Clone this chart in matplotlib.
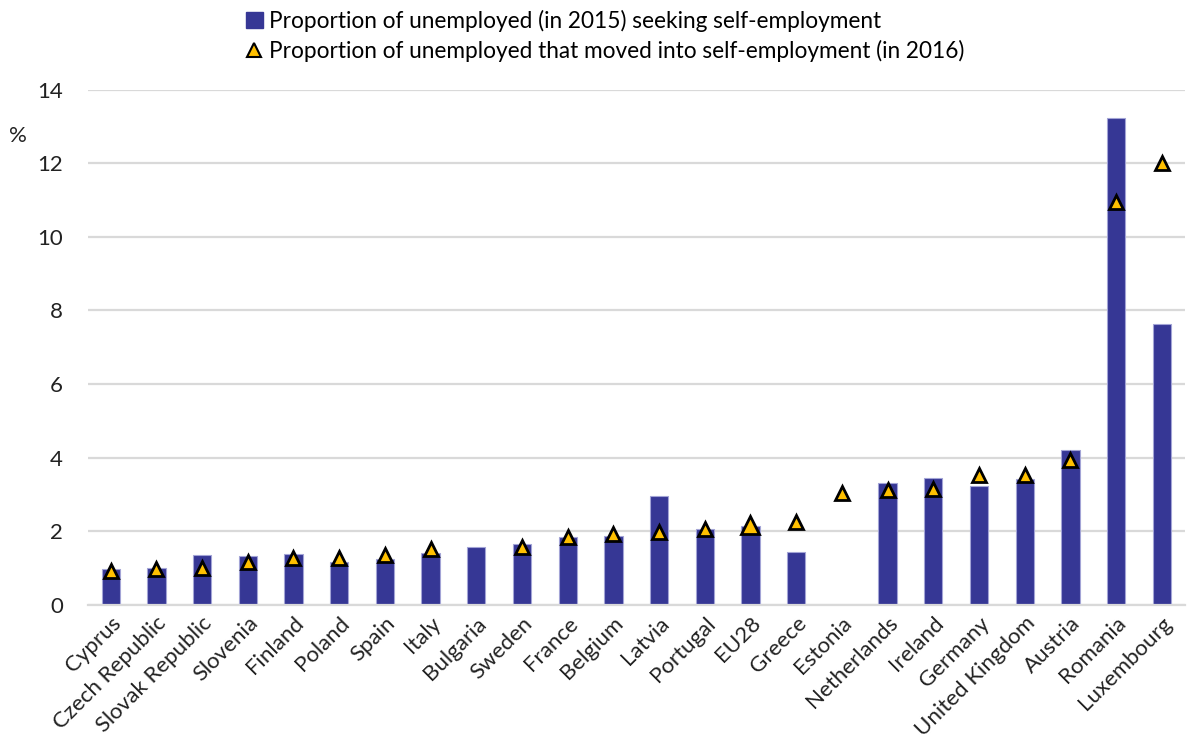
import numpy as np
import matplotlib.pyplot as plt
from matplotlib.lines import Line2D
from matplotlib.patches import Patch

countries = ['Cyprus', 'Czech Republic', 'Slovak Republic', 'Slovenia', 'Finland',
             'Poland', 'Spain', 'Italy', 'Bulgaria', 'Sweden', 'France', 'Belgium',
             'Latvia', 'Portugal', 'EU28', 'Greece', 'Estonia', 'Netherlands',
             'Ireland', 'Germany', 'United Kingdom', 'Austria', 'Romania', 'Luxembourg']

# % of unemployed in 2015 seeking self-employment (nan = no bar)
seeking_2015 = [0.97, 0.99, 1.34, 1.33, 1.39, 1.16, 1.25, 1.40, 1.56, 1.66, 1.84, 1.88,
                2.96, 2.06, 2.15, 1.43, np.nan, 3.30, 3.45, 3.24, 3.43, 4.21, 13.22, 7.64]

# % of unemployed that moved into self-employment in 2016 (nan = no marker)
moved_2016 = [0.92, 0.96, 1.01, 1.15, 1.28, 1.28, 1.35, 1.51, np.nan, 1.58, 1.84, 1.92,
              1.98, 2.05, 2.17, 2.25, 3.04, 3.12, 3.14, 3.53, 3.53, 3.93, 10.96, 12.0]

BAR_COLOR = '#363795'
TRI_COLOR = '#FFC000'
GRID_COLOR = '#d9d9d9'

plt.rcParams['font.family'] = ['Lato', 'DejaVu Sans']

fig = plt.figure(figsize=(11.87, 7.42), dpi=100)
ax = fig.add_axes([0.074, 0.185, 0.924, 0.694])

x = np.arange(len(countries))
ax.bar(x, seeking_2015, width=0.4, color=BAR_COLOR, edgecolor='#a3a4d6',
       linewidth=0.8, zorder=2)

moved = np.array(moved_2016)
is_eu = np.array([c == 'EU28' for c in countries])
ax.plot(x[~is_eu], moved[~is_eu], linestyle='none', marker='^', markersize=10,
        markerfacecolor=TRI_COLOR, markeredgecolor='black', markeredgewidth=2, zorder=3)
ax.plot(x[is_eu], moved[is_eu], linestyle='none', marker='^', markersize=13,
        markerfacecolor=TRI_COLOR, markeredgecolor='black', markeredgewidth=2, zorder=3)

ax.set_xlim(-0.5, len(countries) - 0.5)
ax.set_ylim(0, 14)
ax.set_yticks(range(0, 15, 2))
ax.yaxis.grid(True, color=GRID_COLOR, linewidth=1.6, zorder=0)
ax.set_axisbelow(True)
for side in ['top', 'right', 'left']:
    ax.spines[side].set_visible(False)
ax.spines['bottom'].set_color(GRID_COLOR)
ax.spines['bottom'].set_linewidth(1.6)

ax.tick_params(axis='y', length=0, pad=18, labelsize=16, labelcolor='#222222')
ax.tick_params(axis='x', length=0, pad=6, labelsize=16, labelcolor='#222222')
ax.set_xticks(x)
ax.set_xticklabels(countries, rotation=45, ha='right', rotation_mode='anchor')

fig.text(0.008, 0.808, '%', fontsize=16, color='#222222')

handles = [Patch(facecolor=BAR_COLOR, edgecolor=BAR_COLOR),
           Line2D([], [], linestyle='none', marker='^', markersize=10,
                  markerfacecolor=TRI_COLOR, markeredgecolor='black', markeredgewidth=1.5)]
labels = ['Proportion of unemployed (in 2015) seeking self-employment',
          'Proportion of unemployed that moved into self-employment (in 2016)']
fig.legend(handles, labels, loc='upper left', bbox_to_anchor=(0.19, 1.014),
           frameon=False, fontsize=16.3, handlelength=0.75, handletextpad=0.25,
           labelspacing=0.35, handleheight=0.75)

fig.savefig('out.png', dpi=100)
